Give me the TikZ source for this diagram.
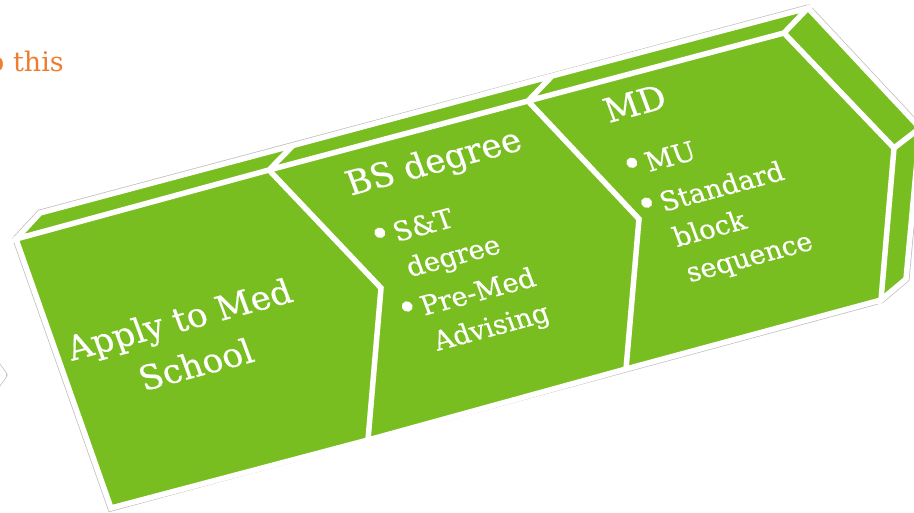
\documentclass[tikz,border=0pt]{standalone}
\usepackage{fontspec}
\setmainfont{DejaVu Serif}
\newfontfamily\chevfont[FakeBold=0.5]{DejaVu Serif}
\definecolor{chev}{RGB}{120,190,32}
\definecolor{orng}{RGB}{237,125,49}
\newcommand{\bulitem}{\llap{\fontsize{36}{37}\selectfont •\hspace{2.5pt}}}
\begin{document}
\begin{tikzpicture}[x=1pt,y=-1pt,
  face/.style={fill=chev, draw=white, line width=5.5pt, line join=miter},
  rim/.style={draw=black!25, line width=7pt, line join=miter},
  ttl/.style={text=white, font=\chevfont\fontsize{34}{48}\selectfont, inner sep=0pt, anchor=base, transform shape},
  itm/.style={text=white, font=\chevfont\fontsize{27}{37.5}\selectfont, inner sep=0pt, anchor=base west, transform shape},
  persp/.style={cm={0.966,0.259,-0.348,0.939,(0,0)}}
]
\useasboundingbox (0,0) rectangle (914,513);
% front face vertices
\coordinate (F0) at (16,239);
\coordinate (B1) at (269,170);
\coordinate (B2) at (528,101);
\coordinate (B3) at (784,33);
\coordinate (C1) at (381,288);
\coordinate (C2) at (639,219);
\coordinate (C3) at (894,148);
\coordinate (D1) at (368,440);
\coordinate (D2) at (626,369);
\coordinate (D3) at (881,300);
\coordinate (E1) at (111,508);
% back (extruded) vertices
\coordinate (F0d) at (40,213);
\coordinate (B1d) at (293,145.5);
\coordinate (B2d) at (552,76);
\coordinate (B3d) at (808,8);
\coordinate (C3d) at (920,128);
\coordinate (D3d) at (906,279);
% partial shape at the left edge
\coordinate (L1) at (-25,335);
\coordinate (L2) at (4,375);
\coordinate (L3) at (-25,415);

% outer rim
\path[rim] (E1) -- (F0) -- (F0d) -- (B3d) -- (C3d) -- (D3d) -- (D3) -- cycle;
\path[rim, line join=round] (L1) -- (L2) -- (L3) -- cycle;
% faces
\path[face, line join=round] (L1) -- (L2) -- (L3) -- cycle;
\path[face]
  (F0) -- (B1) -- (C1) -- (D1) -- (E1) -- cycle
  (B1) -- (B2) -- (C2) -- (D2) -- (D1) -- (C1) -- cycle
  (B2) -- (B3) -- (C3) -- (D3) -- (D2) -- (C2) -- cycle
  (F0) -- (F0d) -- (B1d) -- (B1) -- cycle
  (B1) -- (B1d) -- (B2d) -- (B2) -- cycle
  (B2) -- (B2d) -- (B3d) -- (B3) -- cycle
  (B3) -- (B3d) -- (C3d) -- (C3) -- cycle
  (C3) -- (C3d) -- (D3d) -- (D3) -- cycle;

% orange slide text
\node[text=orng, font=\fontsize{27}{32}\selectfont, anchor=base west, inner sep=0pt] (slide) at (-12,72) {o this};

% block 1
\begin{scope}[shift={(183.5,331)}, persp]
  \node[ttl] (t1) at (0,0) {\begin{tabular}[t]{@{}c@{}}Apply to Med\\School\end{tabular}};
\end{scope}

% block 2
\begin{scope}[shift={(437.5,172.5)}, persp]
  \node[ttl] (t2) at (0,0) {BS degree};
\end{scope}
\begin{scope}[shift={(397,242)}, persp]
  \node[itm] (i2) at (0,0) {\begin{tabular}[t]{@{}l@{}}\bulitem S\&T\\degree\\[3.5pt]\bulitem Pre-Med\\Advising\end{tabular}};
\end{scope}

% block 3
\begin{scope}[shift={(639,115)}, persp]
  \node[ttl] (t3) at (0,0) {MD};
\end{scope}
\begin{scope}[shift={(649,172)}, persp]
  \node[itm] (i3) at (0,0) {\begin{tabular}[t]{@{}l@{}}\bulitem MU\\[5pt]\bulitem Standard\\block\\sequence\end{tabular}};
\end{scope}
\end{tikzpicture}
\end{document}
